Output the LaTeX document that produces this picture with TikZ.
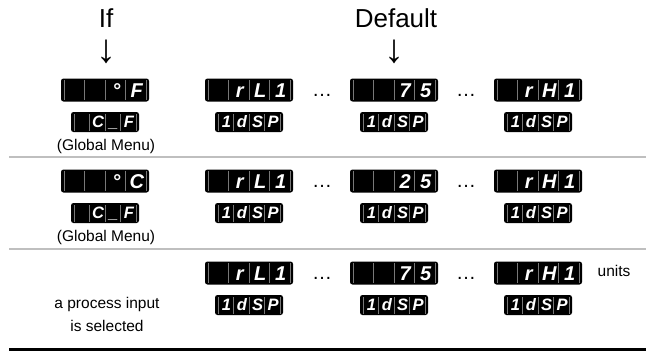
\documentclass[tikz,border=0pt]{standalone}
\usepackage{fontspec}
\setmainfont{Liberation Sans}
\usetikzlibrary{calc}
\definecolor{dispbg}{RGB}{0,0,0}
\definecolor{dispfg}{RGB}{255,255,255}
\definecolor{dispdiv}{RGB}{120,120,120}
\tikzset{
  dchar/.style={inner sep=0pt, anchor=base, font=\dfont, text=dispfg},
  lbl/.style={font=\fontsize{15.5}{18}\selectfont, inner sep=0pt},
  head/.style={font=\fontsize{26}{28}\selectfont, inner sep=0pt, anchor=base},
  arrglyph/.style={font=\fontsize{40}{40}\selectfont, inner sep=0pt, anchor=center},
  dotsglyph/.style={font=\fontsize{20}{20}\selectfont, inner sep=0pt, anchor=base},
  sepline/.style={draw=black!25, line width=1.2pt},
  endline/.style={draw=black, line width=3pt},
}
\newcommand\segdisp[9]{%
  \pgfmathsetmacro\dcw{(#4-6)/4}%
  \pgfmathsetmacro\dxl{#2-#4/2}\pgfmathsetmacro\dxr{#2+#4/2}%
  \pgfmathsetmacro\dyt{#3-#5/2}\pgfmathsetmacro\dyb{#3+#5/2}%
  \node[minimum width=#4pt, minimum height=#5pt, inner sep=0pt, fill=dispbg, rounded corners=2.5pt] (#1) at (#2,#3) {};
  \foreach \k in {0,...,4}{%
    \pgfmathsetmacro\dxk{\dxl+3+\k*\dcw}%
    \fill[dispdiv] (\dxk-0.25,\dyt+1.5) rectangle (\dxk+0.25,\dyb-1.5);}
  \node[dchar] (#1-1) at ({\dxl+3+0.55*\dcw},{#3+\dbase}) {#6};
  \node[dchar] (#1-2) at ({\dxl+3+1.55*\dcw},{#3+\dbase}) {#7};
  \node[dchar] (#1-3) at ({\dxl+3+2.55*\dcw},{#3+\dbase}) {#8};
  \node[dchar] (#1-4) at ({\dxl+3+3.55*\dcw},{#3+\dbase}) {#9};
}
\newcommand\bigdisp[7]{%
  \def\dfont{\fontsize{20}{20}\selectfont\bfseries\itshape}\def\dbase{7.1}%
  \segdisp{#1}{#2}{#3}{88}{23}{#4}{#5}{#6}{#7}}
\newcommand\smalldisp[7]{%
  \def\dfont{\fontsize{16.5}{16.5}\selectfont\bfseries\itshape}\def\dbase{5.9}%
  \segdisp{#1}{#2}{#3}{68}{20}{#4}{#5}{#6}{#7}}
\begin{document}
\begin{tikzpicture}[x=1pt, y=-1pt]
  \useasboundingbox (0,0) rectangle (646,356);
  % headings
  \node[head] (ifh) at (106,27.5) {If};
  \node[arrglyph] (ifarr) at (106,52) {↓};
  \node[head] (defh) at (396,27.5) {Default};
  \node[arrglyph] (defarr) at (394,52) {↓};
  % row 1
  \bigdisp{a1}{105}{90}{}{}{°}{F}
  \smalldisp{b1}{105}{122}{}{C}{\_}{F}
  \node[lbl] (g1) at (106,146) {(Global Menu)};
  \bigdisp{a2}{249}{90}{}{r}{L}{1}
  \smalldisp{b2}{249}{122}{1}{d}{S}{P}
  \node[dotsglyph] (d11) at (322,96.5) {…};
  \bigdisp{a3}{394}{90}{}{}{7}{5}
  \smalldisp{b3}{394}{122}{1}{d}{S}{P}
  \node[dotsglyph] (d12) at (466,96.5) {…};
  \bigdisp{a4}{538}{90}{}{r}{H}{1}
  \smalldisp{b4}{538}{122}{1}{d}{S}{P}
  % separator
  \coordinate (s1l) at (9,157); \coordinate (s1r) at (646,157);
  \draw[sepline] (s1l) -- (s1r);
  % row 2
  \bigdisp{c1}{105}{181}{}{}{°}{C}
  \smalldisp{e1}{105}{213}{}{C}{\_}{F}
  \node[lbl] (g2) at (106,237) {(Global Menu)};
  \bigdisp{c2}{249}{181}{}{r}{L}{1}
  \smalldisp{e2}{249}{213}{1}{d}{S}{P}
  \node[dotsglyph] (d21) at (322,187.5) {…};
  \bigdisp{c3}{394}{181}{}{}{2}{5}
  \smalldisp{e3}{394}{213}{1}{d}{S}{P}
  \node[dotsglyph] (d22) at (466,187.5) {…};
  \bigdisp{c4}{538}{181}{}{r}{H}{1}
  \smalldisp{e4}{538}{213}{1}{d}{S}{P}
  % separator
  \coordinate (s2l) at (9,249); \coordinate (s2r) at (646,249);
  \draw[sepline] (s2l) -- (s2r);
  % row 3
  \node[lbl] (p1) at (107,304) {a process input};
  \node[lbl] (p2) at (107,326) {is selected};
  \bigdisp{f2}{249}{273}{}{r}{L}{1}
  \smalldisp{h2}{249}{305}{1}{d}{S}{P}
  \node[dotsglyph] (d31) at (322,279.5) {…};
  \bigdisp{f3}{394}{273}{}{}{7}{5}
  \smalldisp{h3}{394}{305}{1}{d}{S}{P}
  \node[dotsglyph] (d32) at (466,279.5) {…};
  \bigdisp{f4}{538}{273}{}{r}{H}{1}
  \smalldisp{h4}{538}{305}{1}{d}{S}{P}
  \node[lbl] (units) at (614,271) {units};
  % bottom rule
  \coordinate (s3l) at (9,349); \coordinate (s3r) at (646,349);
  \draw[endline] (s3l) -- (s3r);
\end{tikzpicture}
\end{document}
